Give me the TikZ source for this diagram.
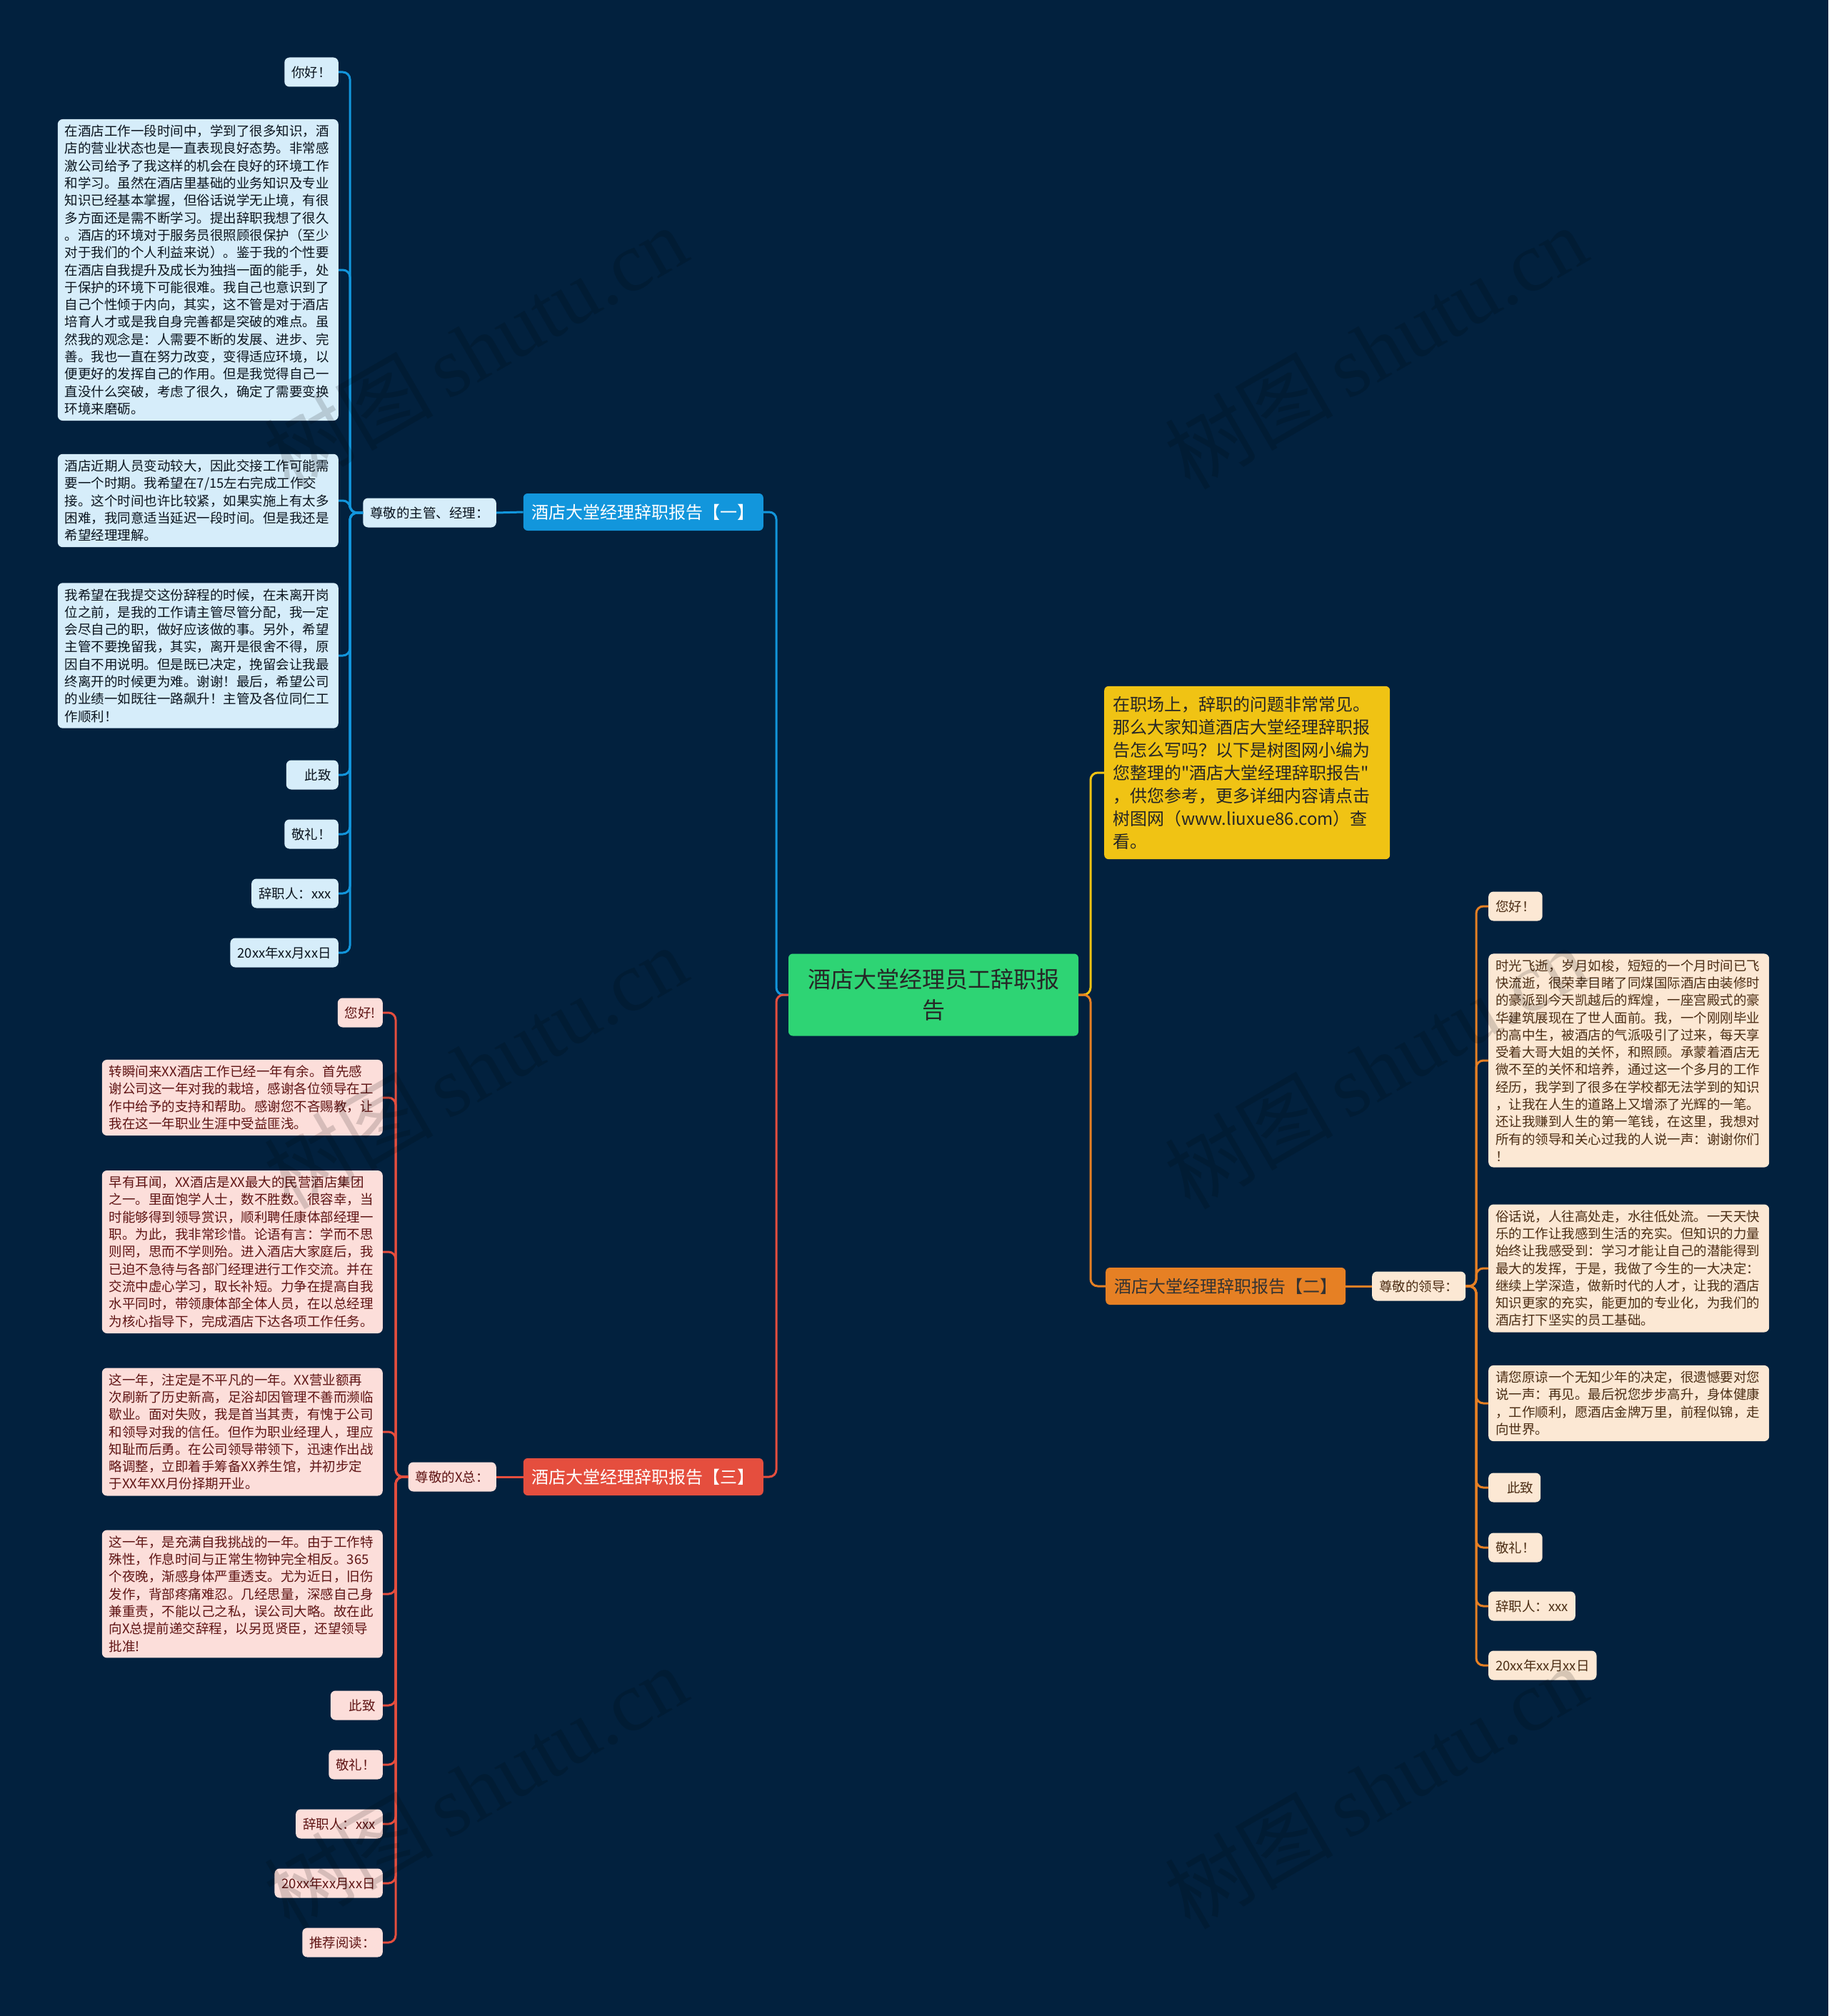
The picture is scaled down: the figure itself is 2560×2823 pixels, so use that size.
\documentclass[tikz,border=0pt]{standalone}
\usepackage{fontspec}
\setmainfont{Noto Sans CJK SC}
\newfontfamily\wmfont{Liberation Serif}
\usetikzlibrary{positioning}

\definecolor{bgnavy}{RGB}{2,33,62}
\definecolor{rootgreen}{RGB}{46,212,116}
\definecolor{introyellow}{RGB}{240,195,20}
\definecolor{brblue}{RGB}{18,150,220}
\definecolor{brred}{RGB}{229,78,62}
\definecolor{brorange}{RGB}{230,128,36}
\definecolor{leafblue}{RGB}{214,237,250}
\definecolor{leafred}{RGB}{252,222,218}
\definecolor{leaforange}{RGB}{252,232,212}
\definecolor{txtblue}{RGB}{10,20,30}
\definecolor{txtred}{RGB}{95,20,20}
\definecolor{txtorange}{RGB}{75,45,20}

\tikzset{
  leaf/.style={rounded corners=7pt, inner xsep=10pt, inner ysep=8pt,
    minimum height=41pt, font=\fontsize{18.5}{24.3}\selectfont},
  block/.style={text width=373pt, align=left},
  bleaf/.style={leaf, fill=leafblue, text=txtblue},
  rleaf/.style={leaf, fill=leafred, text=txtred},
  oleaf/.style={leaf, fill=leaforange, text=txtorange},
  branch/.style={rounded corners=6pt, inner xsep=12pt, minimum height=52pt,
    font=\fontsize{24}{30}\selectfont},
  link/.style={line width=3pt, rounded corners=10pt},
  wmark/.style={rotate=30, text=black, opacity=0.15,
    font=\fontsize{118}{120}\selectfont},
}

\begin{document}
\begin{tikzpicture}[x=1pt,y=-1pt]

\useasboundingbox (0,0) rectangle (2560,2823);
\fill[bgnavy] (0,0) rectangle (2560,2823);

% root and intro
\node[rounded corners=6pt, fill=rootgreen, text=black!85, minimum width=406pt,
  minimum height=115pt, text width=382pt, align=center,
  font=\fontsize{32}{43}\selectfont] (root) at (1307,1393)
  {酒店大堂经理员工辞职报\\告};

\node[rounded corners=6pt, fill=introyellow, text=black!85, anchor=west,
  inner xsep=12pt, inner ysep=14pt, text width=376pt, align=left,
  font=\fontsize{24}{32}\selectfont] (intro) at (1546,1082)
  {在职场上，辞职的问题非常常见。\\
   那么大家知道酒店大堂经理辞职报\\
   告怎么写吗？以下是树图网小编为\\
   您整理的\textquotedbl 酒店大堂经理辞职报告\textquotedbl\\
   ，供您参考，更多详细内容请点击\\
   树图网（www.liuxue86.com）查\\
   看。};

% branches
\node[branch, fill=brblue, text=white, anchor=east] (br1) at (1069,717)
  {酒店大堂经理辞职报告【一】};
\node[branch, fill=brorange, text=black!80, anchor=west] (br2) at (1548,1801)
  {酒店大堂经理辞职报告【二】};
\node[branch, fill=brred, text=white, anchor=east] (br3) at (1069,2068)
  {酒店大堂经理辞职报告【三】};

\coordinate (lj) at (1087,1393);
\coordinate (rj) at (1527,1393);
\draw[link, brblue] (root.west) -- (lj) |- (br1.east);
\draw[link, brred] (root.west) -- (lj) |- (br3.east);
\draw[link, introyellow] (root.east) -- (rj) |- (intro.west);
\draw[link, brorange] (root.east) -- (rj) |- (br2.west);

%---------------------------------------
% Branch one (blue)
%---------------------------------------
\node[bleaf, anchor=east] (bsub) at (695,718) {尊敬的主管、经理：};
\draw[link, brblue] (br1.west) -- (bsub.east);

\node[bleaf, anchor=east] (b1) at (474,101) {你好！};
\node[bleaf, block, anchor=east] (b2) at (474,378)
  {在酒店工作一段时间中，学到了很多知识，酒\\
   店的营业状态也是一直表现良好态势。非常感\\
   激公司给予了我这样的机会在良好的环境工作\\
   和学习。虽然在酒店里基础的业务知识及专业\\
   知识已经基本掌握，但俗话说学无止境，有很\\
   多方面还是需不断学习。提出辞职我想了很久\\
   。酒店的环境对于服务员很照顾很保护（至少\\
   对于我们的个人利益来说）。鉴于我的个性要\\
   在酒店自我提升及成长为独挡一面的能手，处\\
   于保护的环境下可能很难。我自己也意识到了\\
   自己个性倾于内向，其实，这不管是对于酒店\\
   培育人才或是我自身完善都是突破的难点。虽\\
   然我的观念是：人需要不断的发展、进步、完\\
   善。我也一直在努力改变，变得适应环境，以\\
   便更好的发挥自己的作用。但是我觉得自己一\\
   直没什么突破，考虑了很久，确定了需要变换\\
   环境来磨砺。};
\node[bleaf, block, anchor=east] (b3) at (474,701)
  {酒店近期人员变动较大，因此交接工作可能需\\
   要一个时期。我希望在7/15左右完成工作交\\
   接。这个时间也许比较紧，如果实施上有太多\\
   困难，我同意适当延迟一段时间。但是我还是\\
   希望经理理解。};
\node[bleaf, block, anchor=east] (b4) at (474,918)
  {我希望在我提交这份辞程的时候，在未离开岗\\
   位之前，是我的工作请主管尽管分配，我一定\\
   会尽自己的职，做好应该做的事。另外，希望\\
   主管不要挽留我，其实，离开是很舍不得，原\\
   因自不用说明。但是既已决定，挽留会让我最\\
   终离开的时候更为难。谢谢！最后，希望公司\\
   的业绩一如既往一路飙升！主管及各位同仁工\\
   作顺利！};
\node[bleaf, anchor=east] (b5) at (474,1085) {\hspace{16pt}此致};
\node[bleaf, anchor=east] (b6) at (474,1168) {敬礼！};
\node[bleaf, anchor=east] (b7) at (474,1251) {辞职人：xxx};
\node[bleaf, anchor=east] (b8) at (474,1334) {20xx年xx月xx日};

\coordinate (bj) at (490,718);
\foreach \leaf in {b1,b2,b3,b4,b5,b6,b7,b8}
  \draw[link, brblue] (bsub.west) -- (bj) |- (\leaf.east);

%---------------------------------------
% Branch two (orange)
%---------------------------------------
\node[oleaf, anchor=west] (osub) at (1921,1801) {尊敬的领导：};
\draw[link, brorange] (br2.east) -- (osub.west);

\node[oleaf, anchor=west] (o1) at (2084,1269) {您好！};
\node[oleaf, block, anchor=west] (o2) at (2084,1485)
  {时光飞逝，岁月如梭，短短的一个月时间已飞\\
   快流逝，很荣幸目睹了同煤国际酒店由装修时\\
   的豪派到今天凯越后的辉煌，一座宫殿式的豪\\
   华建筑展现在了世人面前。我，一个刚刚毕业\\
   的高中生，被酒店的气派吸引了过来，每天享\\
   受着大哥大姐的关怀，和照顾。承蒙着酒店无\\
   微不至的关怀和培养，通过这一个多月的工作\\
   经历，我学到了很多在学校都无法学到的知识\\
   ，让我在人生的道路上又增添了光辉的一笔。\\
   还让我赚到人生的第一笔钱，在这里，我想对\\
   所有的领导和关心过我的人说一声：谢谢你们\\
   ！};
\node[oleaf, block, anchor=west] (o3) at (2084,1776)
  {俗话说，人往高处走，水往低处流。一天天快\\
   乐的工作让我感到生活的充实。但知识的力量\\
   始终让我感受到：学习才能让自己的潜能得到\\
   最大的发挥，于是，我做了今生的一大决定：\\
   继续上学深造，做新时代的人才，让我的酒店\\
   知识更家的充实，能更加的专业化，为我们的\\
   酒店打下坚实的员工基础。};
\node[oleaf, block, anchor=west] (o4) at (2084,1965)
  {请您原谅一个无知少年的决定，很遗憾要对您\\
   说一声：再见。最后祝您步步高升，身体健康\\
   ，工作顺利，愿酒店金牌万里，前程似锦，走\\
   向世界。};
\node[oleaf, anchor=west] (o5) at (2084,2083) {\hspace{16pt}此致};
\node[oleaf, anchor=west] (o6) at (2084,2167) {敬礼！};
\node[oleaf, anchor=west] (o7) at (2084,2249) {辞职人：xxx};
\node[oleaf, anchor=west] (o8) at (2084,2332) {20xx年xx月xx日};

\coordinate (oj) at (2067,1801);
\foreach \leaf in {o1,o2,o3,o4,o5,o6,o7,o8}
  \draw[link, brorange] (osub.east) -- (oj) |- (\leaf.west);

%---------------------------------------
% Branch three (red)
%---------------------------------------
\node[rleaf, anchor=east] (rsub) at (695,2068) {尊敬的X总：};
\draw[link, brred] (br3.west) -- (rsub.east);

\node[rleaf, anchor=east] (r1) at (536,1418) {您好!};
\node[rleaf, block, anchor=east] (r2) at (536,1537)
  {转瞬间来XX酒店工作已经一年有余。首先感\\
   谢公司这一年对我的栽培，感谢各位领导在工\\
   作中给予的支持和帮助。感谢您不吝赐教，让\\
   我在这一年职业生涯中受益匪浅。};
\node[rleaf, block, anchor=east] (r3) at (536,1753)
  {早有耳闻，XX酒店是XX最大的民营酒店集团\\
   之一。里面饱学人士，数不胜数。很容幸，当\\
   时能够得到领导赏识，顺利聘任康体部经理一\\
   职。为此，我非常珍惜。论语有言：学而不思\\
   则罔，思而不学则殆。进入酒店大家庭后，我\\
   已迫不急待与各部门经理进行工作交流。并在\\
   交流中虚心学习，取长补短。力争在提高自我\\
   水平同时，带领康体部全体人员，在以总经理\\
   为核心指导下，完成酒店下达各项工作任务。};
\node[rleaf, block, anchor=east] (r4) at (536,2005)
  {这一年，注定是不平凡的一年。XX营业额再\\
   次刷新了历史新高，足浴却因管理不善而濒临\\
   歇业。面对失败，我是首当其责，有愧于公司\\
   和领导对我的信任。但作为职业经理人，理应\\
   知耻而后勇。在公司领导带领下，迅速作出战\\
   略调整，立即着手筹备XX养生馆，并初步定\\
   于XX年XX月份择期开业。};
\node[rleaf, block, anchor=east] (r5) at (536,2232)
  {这一年，是充满自我挑战的一年。由于工作特\\
   殊性，作息时间与正常生物钟完全相反。365\\
   个夜晚，渐感身体严重透支。尤为近日，旧伤\\
   发作，背部疼痛难忍。几经思量，深感自己身\\
   兼重责，不能以己之私，误公司大略。故在此\\
   向X总提前递交辞程，以另觅贤臣，还望领导\\
   批准!};
\node[rleaf, anchor=east] (r6) at (536,2388) {\hspace{16pt}此致};
\node[rleaf, anchor=east] (r7) at (536,2471) {敬礼！};
\node[rleaf, anchor=east] (r8) at (536,2554) {辞职人：xxx};
\node[rleaf, anchor=east] (r9) at (536,2637) {20xx年xx月xx日};
\node[rleaf, anchor=east] (r10) at (536,2720) {推荐阅读：};

\coordinate (rj3) at (554,2068);
\foreach \leaf in {r1,r2,r3,r4,r5,r6,r7,r8,r9,r10}
  \draw[link, brred] (rsub.west) -- (rj3) |- (\leaf.east);

% watermarks
\foreach \wx/\wy in {666/486, 1926/486, 666/1494, 1926/1494, 666/2502, 1926/2502}
  \node[wmark] (wm\wx\wy) at (\wx,\wy) {树图\,{\wmfont shutu.cn}};

\end{tikzpicture}
\end{document}
